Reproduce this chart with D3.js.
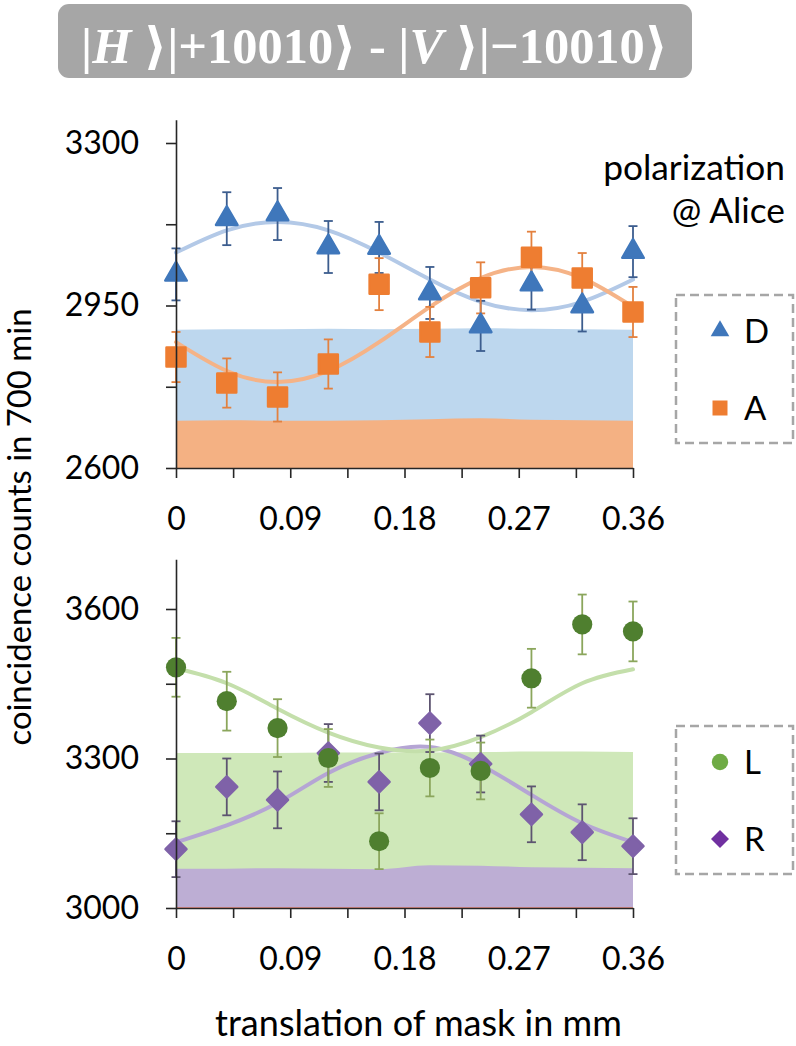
<!DOCTYPE html>
<html>
<head>
<meta charset="utf-8">
<script src="https://cdn.jsdelivr.net/npm/d3@7"></script>
<style>
  html, body { margin: 0; padding: 0; background: #fff; }
  svg { display: block; }
</style>
</head>
<body>
<svg id="chart" width="796" height="1046"></svg>
<script>
// ---------------- data ----------------
const shifts = [0, 0.04, 0.08, 0.12, 0.16, 0.20, 0.24, 0.28, 0.32, 0.36];

// top panel: polarization D / A at Alice
const dCounts = [3017, 3137, 3147, 3076, 3075, 2977, 2906, 2996, 2949, 3066];
const dErrors = [56, 57, 56, 56, 55, 56, 54, 55, 55, 55];
const aCounts = [2839, 2783, 2753, 2824, 2996, 2893, 2988, 3054, 3009, 2936];
const aErrors = [54, 53, 53, 53, 56, 54, 55, 55, 54, 54];
const dFit = [3064, 3112, 3130, 3112, 3064, 3006, 2958, 2940, 2958, 3006];
const aFit = [2871, 2809, 2785, 2809, 2871, 2947, 3009, 3033, 3009, 2947];
const dBackground = [2898, 2899, 2899, 2900, 2899, 2900, 2901, 2900, 2899, 2898];
const aBackground = [2702, 2703, 2702, 2702, 2703, 2705, 2707, 2704, 2703, 2702];

// bottom panel: polarization L / R at Alice
const lCounts = [3483, 3415, 3361, 3301, 3134, 3281, 3275, 3461, 3569, 3555];
const lErrors = [59, 59, 58, 58, 56, 57, 57, 59, 60, 60];
const rCounts = [3118, 3243, 3217, 3311, 3253, 3371, 3289, 3188, 3152, 3124];
const rErrors = [56, 57, 57, 58, 57, 58, 57, 56, 56, 56];
const lFit = [3481, 3451, 3400, 3352, 3322, 3316, 3343, 3393, 3451, 3479];
const rFit = [3132, 3166, 3211, 3271, 3311, 3323, 3287, 3227, 3170, 3132];
const lBackground = [3311, 3311, 3311, 3312, 3312, 3312, 3313, 3314, 3314, 3313];
const rBackground = [3079, 3079, 3080, 3079, 3078, 3086, 3085, 3082, 3081, 3080];
const baseBackground = [3002, 3002, 3002, 3002, 3002, 3002, 3002, 3002, 3002, 3002];

// axes
const xTicks = [0, 0.045, 0.09, 0.135, 0.18, 0.225, 0.27, 0.315, 0.36];
const xTickLabels = ["0", "", "0.09", "", "0.18", "", "0.27", "", "0.36"];
const topTicks = [2600, 2775, 2950, 3125, 3300];
const topTickLabels = ["2600", "", "2950", "", "3300"];
const bottomTicks = [3000, 3150, 3300, 3450, 3600];
const bottomTickLabels = ["3000", "", "3300", "", "3600"];

const titleParts = [["|", false], ["H", true], [" \u27E9|+10010\u27E9 - |", false], ["V", true], [" \u27E9|\u221210010\u27E9", false]];
const yTitle = "coincidence counts in 700 min";
const xTitle = "translation of mask in mm";
const legendTop = [["D", "triangle"], ["A", "square"]];
const legendBottom = [["L", "circle"], ["R", "diamond"]];

// ---------------- drawing ----------------
const svg = d3.select("#chart");
const FONT = "Lato, 'Open Sans', sans-serif";

function fitWidth(sel, target) {
  const n = sel.node();
  const base = parseFloat(sel.attr("font-size"));
  const w = n.getComputedTextLength();
  if (w > 0) sel.attr("font-size", (base * target / w).toFixed(2));
}

// title
svg.append("rect").attr("x", 58).attr("y", 4).attr("width", 634).attr("height", 74)
  .attr("rx", 11).attr("fill", "#a6a6a6");
const title = svg.append("text").attr("x", 374.5).attr("y", 63)
  .attr("text-anchor", "middle").attr("fill", "#fff")
  .attr("font-family", "'Liberation Serif', 'DejaVu Serif', serif")
  .attr("font-weight", "bold").attr("font-size", 50);
titleParts.forEach(([t, it]) => {
  title.append("tspan").text(t).attr("font-style", it ? "italic" : "normal");
});
fitWidth(title, 587);

const x = d3.scaleLinear().domain([0, 0.36]).range([176, 633]);

const colors = {
  D: { mark: "#3f77bb", err: "#3c5d8e", fit: "#b3c9e7", band: "#bdd7ee", legend: "#3f77bb" },
  A: { mark: "#ee7d31", err: "#e3813f", fit: "#f5b387", band: "#f4b183", legend: "#ee7d31" },
  L: { mark: "#4f7f2f", err: "#8ba65c", fit: "#c4dfab", band: "#cfe8b9", legend: "#6fab45" },
  R: { mark: "#7f62a8", err: "#5d5470", fit: "#b5a5d4", band: "#bdaed4", legend: "#7030a0" }
};

function symbolPath(shape) {
  if (shape === "triangle") return d3.symbol(d3.symbolTriangle, 200)();
  if (shape === "square") return "M-9.5,-9.5H9.5V9.5H-9.5Z";
  if (shape === "circle") return d3.symbol(d3.symbolCircle, 320)();
  return "M0,-10.5L10.5,0L0,10.5L-10.5,0Z";
}

function panel(opts) {
  const y = d3.scaleLinear().domain(opts.domain).range(opts.range);
  const g = svg.append("g");
  const base = opts.domain[0];

  // background bands
  opts.bands.forEach(b => {
    const area = d3.area().x((d, i) => x(shifts[i])).y0(y(base)).y1(d => y(d))
      .curve(d3.curveMonotoneX);
    g.append("path").datum(b.values).attr("d", area).attr("fill", b.color);
  });

  // fit curves
  opts.series.forEach(s => {
    const line = d3.line().x((d, i) => x(shifts[i])).y(d => y(d)).curve(d3.curveNatural);
    g.append("path").datum(s.fit).attr("d", line).attr("fill", "none")
      .attr("stroke", colors[s.key].fit).attr("stroke-width", 4).attr("stroke-linecap", "round");
  });

  // error bars
  opts.series.forEach(s => {
    const eg = g.append("g").attr("stroke", colors[s.key].err).attr("stroke-width", 1.8).attr("fill", "none");
    s.values.forEach((v, i) => {
      const cx = x(shifts[i]);
      const y1 = y(v - s.errors[i]), y2 = y(v + s.errors[i]);
      eg.append("line").attr("x1", cx).attr("x2", cx).attr("y1", y1).attr("y2", y2);
      eg.append("line").attr("x1", cx - 4.5).attr("x2", cx + 4.5).attr("y1", y1).attr("y2", y1);
      eg.append("line").attr("x1", cx - 4.5).attr("x2", cx + 4.5).attr("y1", y2).attr("y2", y2);
    });
  });

  // markers
  opts.series.forEach(s => {
    const c = colors[s.key].mark;
    g.append("g").selectAll("path").data(s.values).join("path")
      .attr("d", symbolPath(s.shape))
      .attr("transform", (d, i) => `translate(${x(shifts[i])},${y(d)})`)
      .attr("fill", c).attr("stroke", c).attr("stroke-width", s.shape === "circle" ? 0 : 2.5)
      .attr("stroke-linejoin", "round");
  });

  // axes
  const xa = g.append("g").attr("transform", `translate(0,${y(base)})`)
    .call(d3.axisBottom(x).tickValues(xTicks).tickSizeInner(10).tickSizeOuter(0)
      .tickFormat((d, i) => xTickLabels[i]));
  xa.selectAll("text").attr("y", 50.5).attr("dy", "0.35em");
  const ya = g.append("g").attr("transform", `translate(${x(0)},0)`)
    .call(d3.axisLeft(y).tickValues(opts.ticks).tickSizeInner(10).tickSizeOuter(0).tickPadding(27)
      .tickFormat((d, i) => opts.tickLabels[i]));
  [xa, ya].forEach(a => {
    a.selectAll("path,line").attr("stroke", "#262626").attr("stroke-width", 1.6);
    a.selectAll("text").attr("font-family", FONT).attr("font-size", 32).attr("fill", "#000");
  });

  // legend
  const lg = svg.append("g");
  lg.append("rect").attr("x", opts.legend.x).attr("y", opts.legend.y)
    .attr("width", 117).attr("height", 148).attr("fill", "none")
    .attr("stroke", "#a6a6a6").attr("stroke-width", 2.5).attr("stroke-dasharray", "9,5");
  opts.legend.items.forEach(([label, shape], i) => {
    const cy = opts.legend.y + 36 + i * 77;
    let p;
    if (shape === "triangle") p = d3.symbol(d3.symbolTriangle, 150)();
    else if (shape === "square") p = "M-7.5,-7.5H7.5V7.5H-7.5Z";
    else if (shape === "circle") p = d3.symbol(d3.symbolCircle, 210)();
    else p = "M0,-9L9,0L0,9L-9,0Z";
    lg.append("path").attr("d", p).attr("transform", `translate(${opts.legend.x + 44},${cy})`)
      .attr("fill", colors[label].legend);
    lg.append("text").attr("x", opts.legend.x + 68).attr("y", cy + 12)
      .attr("font-family", FONT).attr("font-size", 33).attr("fill", "#000").text(label);
  });
  return y;
}

panel({
  domain: [2600, 3350], range: [468, 468 - 325 * 750 / 700],
  ticks: topTicks, tickLabels: topTickLabels,
  bands: [{ values: dBackground, color: colors.D.band }, { values: aBackground, color: colors.A.band }],
  series: [
    { key: "D", values: dCounts, errors: dErrors, fit: dFit, shape: "triangle" },
    { key: "A", values: aCounts, errors: aErrors, fit: aFit, shape: "square" }
  ],
  legend: { x: 676, y: 295, items: legendTop }
});

panel({
  domain: [3000, 3700], range: [908, 908 - 299 * 700 / 600],
  ticks: bottomTicks, tickLabels: bottomTickLabels,
  bands: [{ values: lBackground, color: colors.L.band }, { values: rBackground, color: colors.R.band },
          { values: baseBackground, color: "#e8928a" }],
  series: [
    { key: "R", values: rCounts, errors: rErrors, fit: rFit, shape: "diamond" },
    { key: "L", values: lCounts, errors: lErrors, fit: lFit, shape: "circle" }
  ],
  legend: { x: 676, y: 726, items: legendBottom }
});

// annotations
const pol = svg.append("text").attr("x", 785).attr("y", 180).attr("text-anchor", "end")
  .attr("font-family", FONT).attr("font-size", 32).attr("fill", "#000").text("polarization");
fitWidth(pol, 182);
svg.append("text").attr("x", 785).attr("y", 223).attr("text-anchor", "end")
  .attr("font-family", FONT).attr("font-size", pol.attr("font-size")).attr("fill", "#000").text("@ Alice");

const yt = svg.append("text").attr("transform", "translate(31,527) rotate(-90)")
  .attr("text-anchor", "middle").attr("font-family", FONT).attr("font-size", 32)
  .attr("fill", "#000").text(yTitle);
fitWidth(yt, 437);
const xt = svg.append("text").attr("x", 418.5).attr("y", 1036).attr("text-anchor", "middle")
  .attr("font-family", FONT).attr("font-size", 32).attr("fill", "#000").text(xTitle);
fitWidth(xt, 407);
</script>
</body>
</html>
